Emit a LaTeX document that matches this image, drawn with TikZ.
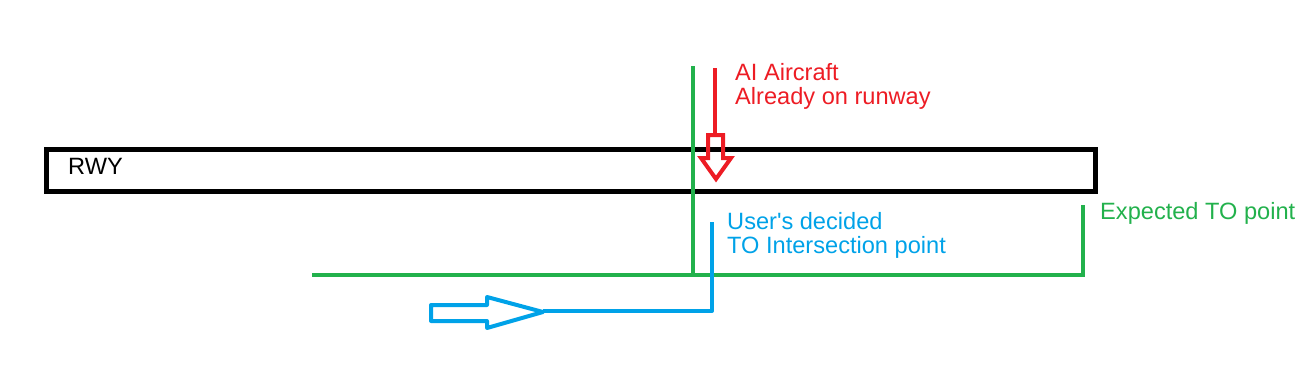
\documentclass[tikz,border=0pt]{standalone}
\usepackage{fontspec}
\setmainfont{Liberation Sans}
\definecolor{pred}{RGB}{237,28,36}
\definecolor{pblue}{RGB}{0,162,232}
\definecolor{pgreen}{RGB}{34,177,76}
\begin{document}
\begin{tikzpicture}[x=1pt,y=-1pt,
  rwy/.style={draw=black,line width=5pt},
  gline/.style={draw=pgreen,line width=4pt},
  bline/.style={draw=pblue,line width=4pt,line join=round},
  rline/.style={draw=pred,line width=4pt,line join=miter},
  lbl/.style={font=\fontsize{23.6}{24}\selectfont,inner sep=0pt,anchor=base west,align=left}]
\useasboundingbox (0,0) rectangle (1313,372);
% runway
\node[rwy,minimum width=1049pt,minimum height=42.5pt,anchor=north west,inner sep=0pt] (runway) at (44,146.5) {};
\node[lbl] (rwylbl) at (68,174) {RWY};
% green lines
\coordinate (g1) at (693,66);
\coordinate (g2) at (693,275);
\coordinate (g0) at (312,275);
\coordinate (g3) at (1083,275);
\coordinate (g4) at (1083,205);
\draw[gline] (g1) -- (g2);
\draw[gline] (g0) -- (g3) -- (g4);
\node[lbl,text=pgreen] (exp) at (1100,219) {Expected TO point};
% red arrow
\coordinate (r0) at (715,68);
\coordinate (r1) at (715,135);
\draw[rline] (r0) -- (r1);
\draw[rline] (708,135) -- (723,135) -- (723,158) -- (731,158) -- (716,179) -- (701,158) -- (708,158) -- cycle;
\node[lbl,text=pred] (ai) at (735,104) {AI Aircraft\\Already on runway};
% blue arrow
\draw[bline] (431,305) -- (487,305) -- (487,297) -- (543,312) -- (487,328) -- (487,321) -- (431,321) -- cycle;
\coordinate (b0) at (543,311);
\coordinate (b1) at (712,311);
\coordinate (b2) at (712,222);
\draw[bline] (b0) -- (b1) -- (b2);
\node[lbl,text=pblue] (user) at (727,253) {User\textquotesingle s decided\\TO Intersection point};
\end{tikzpicture}
\end{document}
